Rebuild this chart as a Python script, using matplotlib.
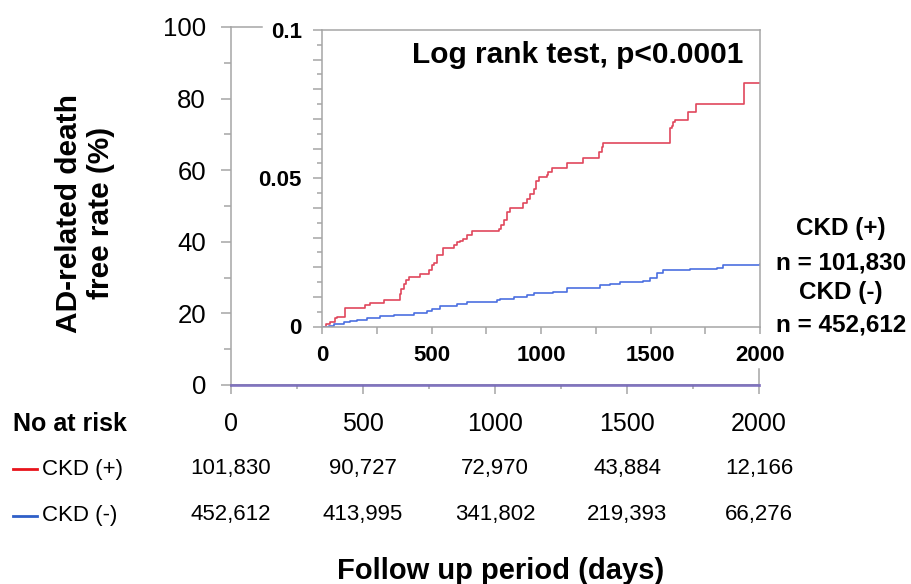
import matplotlib
matplotlib.use("Agg")
import matplotlib.pyplot as plt
from matplotlib.lines import Line2D
from matplotlib.ticker import MultipleLocator, FuncFormatter

# cumulative AD-related death
ckd_pos_days = [0, 20, 38, 61, 67, 106, 198, 221, 281, 354, 362, 373, 385, 395, 449, 487,
                500, 510, 525, 552, 601, 616, 631, 646, 662, 684, 806, 818, 829, 845, 859,
                920, 935, 950, 966, 978, 989, 1027, 1034, 1049, 1118, 1194, 1267, 1278, 1285,
                1589, 1597, 1605, 1612, 1673, 1681, 1708, 1929, 2000]
ckd_pos_rate = [0, 0.0008, 0.0016, 0.0028, 0.0033, 0.0063, 0.0071, 0.0079, 0.0090, 0.0110,
                0.0128, 0.0144, 0.0156, 0.0167, 0.0176, 0.0190, 0.0206, 0.0215, 0.0240, 0.0266,
                0.0275, 0.0285, 0.0290, 0.0296, 0.0307, 0.0322, 0.0330, 0.0341, 0.0360, 0.0385,
                0.0398, 0.0415, 0.0431, 0.0448, 0.0465, 0.0490, 0.0504, 0.0510, 0.0521, 0.0536,
                0.0550, 0.0569, 0.0589, 0.0605, 0.0619, 0.0668, 0.0676, 0.0690, 0.0696, 0.0722,
                0.0724, 0.0750, 0.0820, 0.0820]
ckd_neg_days = [0, 30, 53, 99, 130, 160, 205, 266, 327, 418, 479, 502, 540, 616, 662, 798,
                814, 875, 935, 966, 1057, 1118, 1270, 1316, 1361, 1468, 1498, 1530, 1559,
                1681, 1802, 1833, 2000]
ckd_neg_rate = [0, 0.0003, 0.0007, 0.0015, 0.0019, 0.0023, 0.0028, 0.0034, 0.0039, 0.0045,
                0.0052, 0.0060, 0.0069, 0.0077, 0.0084, 0.0088, 0.0093, 0.0099, 0.0105, 0.0113,
                0.0116, 0.0131, 0.0139, 0.0144, 0.0150, 0.0155, 0.0165, 0.0180, 0.0189, 0.0195,
                0.0198, 0.0209, 0.0212]

risk_days = [0, 500, 1000, 1500, 2000]
risk_pos = ["101,830", "90,727", "72,970", "43,884", "12,166"]
risk_neg = ["452,612", "413,995", "341,802", "219,393", "66,276"]
main_yticks = [0, 20, 40, 60, 80, 100]
inset_ylabels = {0.0: "0", 0.05: "0.05", 0.1: "0.1"}

RED = "#e0475c"
BLUE = "#4b6fe0"
GREY = "#a6a6a6"
W, H = 911, 584

plt.rcParams["font.family"] = ["Liberation Sans", "DejaVu Sans"]
fig = plt.figure(figsize=(W / 100, H / 100), dpi=100)

# ---- main axes (0-100 %) ----
ax = fig.add_axes([231 / W, 1 - 385 / H, 528 / W, 358 / H])
ax.set_xlim(0, 2000)
ax.set_ylim(0, 100)
for s in ("top", "right"):
    ax.spines[s].set_visible(False)
for s in ("left", "bottom"):
    ax.spines[s].set_color(GREY)
    ax.spines[s].set_linewidth(1.1)
ax.set_xticks(risk_days)
ax.set_xticklabels([])
ax.xaxis.set_minor_locator(MultipleLocator(250))
ax.set_yticks(main_yticks)
ax.yaxis.set_minor_locator(MultipleLocator(10))
ax.tick_params(axis="x", which="major", length=6.5, width=1.1, color=GREY)
ax.tick_params(axis="x", which="minor", length=3, width=1.1, color=GREY)
ax.tick_params(axis="y", which="major", length=7, width=1.1, color=GREY,
               labelsize=18.5, pad=11)
ax.tick_params(axis="y", which="minor", length=5, width=1.1, color=GREY)
ax.step(ckd_pos_days, ckd_pos_rate, where="post", color=RED, lw=2.0, alpha=0.5,
        clip_on=False, zorder=3)
ax.step(ckd_neg_days, ckd_neg_rate, where="post", color=BLUE, lw=2.0, alpha=0.6,
        clip_on=False, zorder=3)
# little end marks of the original axes
ax.plot([0, 117], [100, 100], color=GREY, lw=1.1, clip_on=False)
ax.plot([2000, 2000], [0, 4.5], color=GREY, lw=1.1, clip_on=False)

# at-risk table
tr = ax.get_xaxis_transform()
for d, a, b in zip(risk_days, risk_pos, risk_neg):
    ax.text(d, -0.109, str(d), transform=tr, ha="center", va="center", fontsize=18)
    ax.text(d, -0.232, a, transform=tr, ha="center", va="center", fontsize=16)
    ax.text(d, -0.363, b, transform=tr, ha="center", va="center", fontsize=16)
fig.text(13 / W, 1 - 424 / H, "No at risk", ha="left", va="center", fontsize=18,
         fontweight="bold")
fig.add_artist(Line2D([13 / W, 37 / W], [1 - 469 / H] * 2, color="#e8141c", lw=2))
fig.add_artist(Line2D([13 / W, 37 / W], [1 - 516 / H] * 2, color="#2f5fc8", lw=2))
fig.text(42 / W, 1 - 469 / H, "CKD (+)", ha="left", va="center", fontsize=16)
fig.text(42 / W, 1 - 516 / H, "CKD (-)", ha="left", va="center", fontsize=16)

fig.text(85 / W, 1 - 213 / H, "AD-related death\nfree rate (%)", rotation=90,
         ha="center", va="center", fontsize=21.5, fontweight="bold",
         multialignment="center", linespacing=1.2)
fig.text(501 / W, 1 - 571 / H, "Follow up period (days)", ha="center", va="center",
         fontsize=21, fontweight="bold")

# ---- inset (cumulative incidence) ----
axi = fig.add_axes([322 / W, 1 - 326.5 / H, 438 / W, 296.5 / H])
axi.set_xlim(0, 2000)
axi.set_ylim(0, 0.1)
for s in axi.spines.values():
    s.set_color(GREY)
    s.set_linewidth(1.1)
axi.step(ckd_pos_days, ckd_pos_rate, where="post", color=RED, lw=1.2)
axi.step(ckd_neg_days, ckd_neg_rate, where="post", color=BLUE, lw=1.2)
axi.xaxis.set_major_locator(MultipleLocator(500))
axi.xaxis.set_minor_locator(MultipleLocator(250))
axi.yaxis.set_major_locator(MultipleLocator(0.01))
axi.yaxis.set_minor_locator(MultipleLocator(0.005))
axi.yaxis.set_major_formatter(FuncFormatter(
    lambda v, p: inset_ylabels.get(round(v, 3), "")))
axi.tick_params(axis="x", which="both", length=5, width=1.1, color=GREY,
                labelsize=16, pad=8)
axi.tick_params(axis="y", which="major", length=6.5, width=1.1, color=GREY,
                labelsize=16, pad=8)
axi.tick_params(axis="y", which="minor", length=3.5, width=1.1, color=GREY)
for lab in axi.get_xticklabels() + axi.get_yticklabels():
    lab.set_fontweight("bold")
axi.text(0.961, 0.916, "Log rank test, p<0.0001", transform=axi.transAxes, ha="right",
         va="center", fontsize=21.5, fontweight="bold")

# group sizes on the right
for ypx, txt in zip([228, 263, 292, 325],
                    ["CKD (+)", "n = 101,830", "CKD (-)", "n = 452,612"]):
    fig.text(841 / W, 1 - ypx / H, txt, ha="center", va="center", fontsize=17.5,
             fontweight="bold")

fig.savefig("out.png", dpi=100)
